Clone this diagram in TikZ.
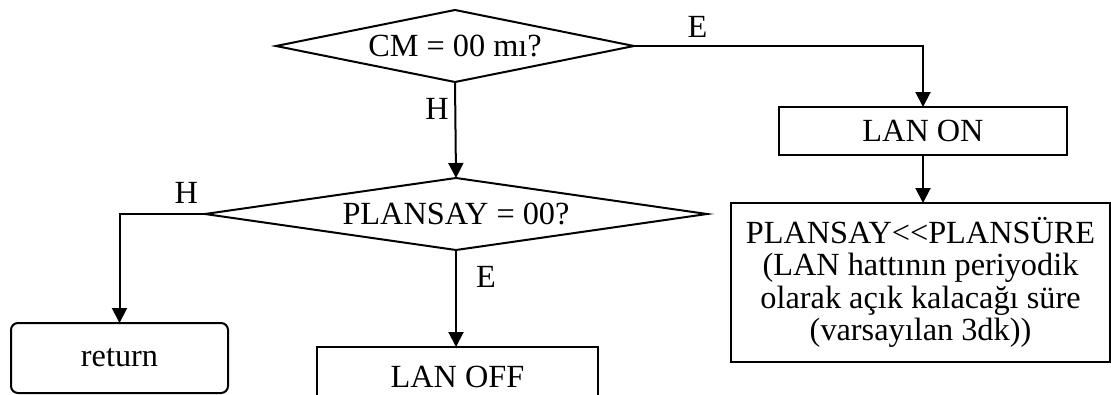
\documentclass[tikz,border=0pt]{standalone}
\usepackage{fontspec}
\setmainfont{Liberation Serif}
\usepackage{tikz}
\usetikzlibrary{arrows.meta,positioning,shapes.geometric}

\begin{document}
\begin{tikzpicture}[x=1pt,y=-1pt,font=\fontsize{32.3}{32.5}\selectfont,
  dec/.style={draw,diamond,line width=2pt,inner sep=0pt,outer sep=0pt},
  box/.style={draw,line width=2pt,inner sep=0pt,outer sep=0pt,align=center},
  lbl/.style={inner sep=3pt},
  arr/.style={-{Triangle[length=15pt,width=15pt]},line width=2pt}]
\clip (0,0) rectangle (1111,394);
\node[dec,minimum width=358pt,minimum height=72pt,aspect=5] (q1) at (455,46) {CM = 00 mı?};
\node[dec,minimum width=502pt,minimum height=72pt,aspect=7] (q2) at (456,214) {PLANSAY = 00?};
\node[box,minimum width=288pt,minimum height=48pt] (lanon) at (923,131) {LAN ON};
\node[box,minimum width=379pt,minimum height=159pt] (plan) at (920.5,282.5)
  {PLANSAY<\kern0pt<\kern0pt PLANSÜRE\\(LAN hattının periyodik\\olarak açık kalacağı süre\\(varsayılan 3dk))};
\node[box,rounded corners=7pt,minimum width=217pt,minimum height=70pt] (ret) at (119.5,358) {return};
\node[box,minimum width=281pt,minimum height=60pt] (lanoff) at (457.5,377) {LAN OFF};
\draw[arr] (q1.south) -- node[lbl,pos=0.28,left=2.5pt] (h1) {H} (q2.north);
\draw[arr] (q1.east) -| node[lbl,pos=0.11,above=5pt] (e1) {E} (lanon.north);
\draw[arr] (lanon.south) -- (lanon.south |- plan.north);
\draw[arr] (q2.west) -| node[lbl,pos=0.11,above=7pt] (h2) {H} (ret.north);
\draw[arr] (q2.south) -- node[lbl,pos=0.28,right=16pt] (e2) {E} (q2.south |- lanoff.north);
\end{tikzpicture}
\end{document}
